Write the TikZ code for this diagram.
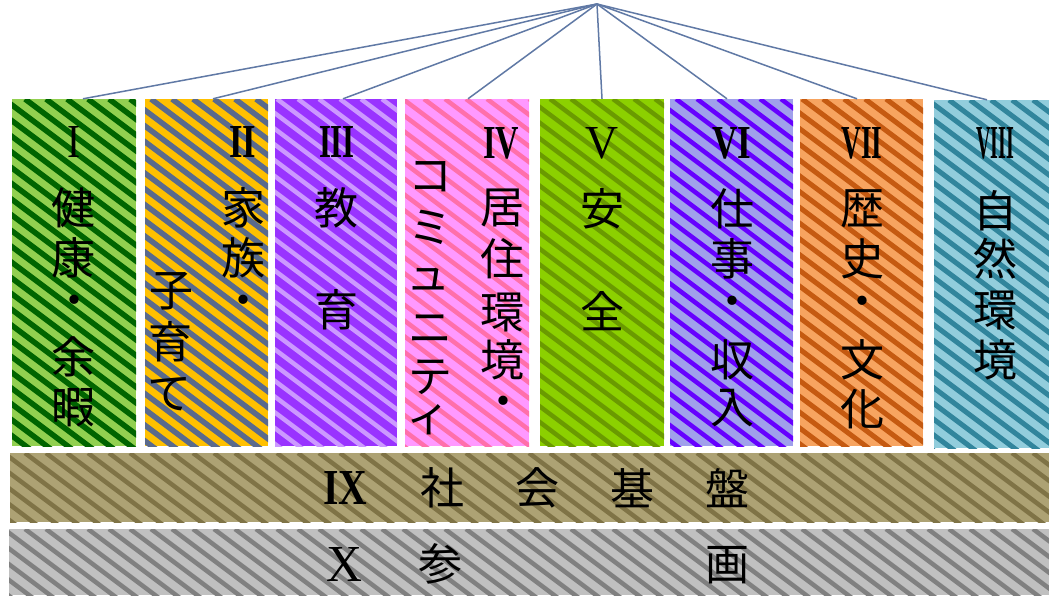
\documentclass[tikz,border=0pt]{standalone}
\usepackage{fontspec}
\usepackage{graphicx}
\setmainfont{Liberation Serif}
\newfontfamily\jp{Noto Sans CJK JP}
\usetikzlibrary{fit,calc}
\definecolor{gAbg}{HTML}{92D050}\definecolor{gAfg}{HTML}{006400}
\definecolor{gBbg}{HTML}{FFC000}\definecolor{gBfg}{HTML}{5A6A8C}
\definecolor{gCbg}{HTML}{9933FF}\definecolor{gCfg}{HTML}{CC99FF}
\definecolor{gDbg}{HTML}{FF99FF}\definecolor{gDfg}{HTML}{FF6FAA}
\definecolor{gEbg}{HTML}{8CD000}\definecolor{gEfg}{HTML}{6A9A00}
\definecolor{gFbg}{HTML}{A0A0EB}\definecolor{gFfg}{HTML}{6600FF}
\definecolor{gGbg}{HTML}{F7A460}\definecolor{gGfg}{HTML}{C55A11}
\definecolor{gHbg}{HTML}{92CDDC}\definecolor{gHfg}{HTML}{31859C}
\definecolor{gIbg}{HTML}{ADA274}\definecolor{gIfg}{HTML}{7F7346}
\definecolor{gJbg}{HTML}{C0C0C0}\definecolor{gJfg}{HTML}{808080}
\definecolor{conncol}{HTML}{6079A5}
\tikzset{
  jpc/.style={font=\jp\fontsize{44}{50}\selectfont, inner sep=0pt, text=black},
  rnc/.style={font=\fontsize{44}{50}\selectfont, inner sep=0pt, text=black},
  conn/.style={draw=conncol, line width=1.5pt},
  panel/.style={inner sep=0pt, draw=none}
}
\begin{document}
\begin{tikzpicture}[x=1pt,y=-1pt]
\useasboundingbox (0,0) rectangle (1049,595);
\fill[white] (0,0) rectangle (1049,595);
\foreach \n/\xa/\ya/\xb/\yb/\cb/\cf/\lw in {
  c1/12/99/136/446/gAbg/gAfg/5.5,
  c2/145/99/268/446/gBbg/gBfg/5.5,
  c3/275/99/397/446/gCbg/gCfg/4.5,
  c4/405/99/529/446/gDbg/gDfg/4.5,
  c5/540/99/664/446/gEbg/gEfg/4.5,
  c6/670/99/793/446/gFbg/gFfg/4.5,
  c7/800/99/923/446/gGbg/gGfg/5,
  c8/934/100/1049/448/gHbg/gHfg/5,
  c9/10/453/1049/522/gIbg/gIfg/4.5,
  c10/9/529/1049/595/gJbg/gJfg/4.5}{
  \begin{scope}
    \clip (\xa,\ya) rectangle (\xb,\yb);
    \fill[\cb] (\xa,\ya) rectangle (\xb,\yb);
    \foreach \s in {-500,-479,...,1060}
      \draw[\cf, line width=\lw pt] (\s,\ya) -- ++(500,375);
  \end{scope}
  \node[panel, fit={(\xa,\ya) (\xb,\yb)}] (\n) {};
}
% Roman numerals
\foreach \rw/\rh/\rf/\rt/\x/\y [count=\i] in {
  13/31/\mdseries/I/74/142, 27/31/\bfseries/II/243/142, 36/31/\bfseries/III/337/142,
  36/31/\bfseries/IV/501/143, 33/31/\mdseries/V/602/143, 39/31/\bfseries/VI/732/143,
  41/31/\bfseries/VII/862/143, 38/31/\bfseries/VIII/995/143,
  44/33/\bfseries/IX/345/488, 36/34/\mdseries/X/344/564}
  \node[rnc] (r\i) at (\x,\y) {\rf\resizebox{\rw pt}{\rh pt}{\rt}};
% Japanese characters
\foreach \ch/\x/\y [count=\i] in {
  健/73/208, 康/73/258, ・/74/306, 余/73/357, 暇/73/408,
  家/243/208, 族/243/258, ・/243/306, 子/171/291, 育/170/342, て/169/394,
  教/336/208, 育/336/310,
  居/502/208, 住/502/259, 環/502/312, 境/502/360, ・/503/407,
  コ/430/177, ミ/430/227, ュ/428/279, ニ/430/329, テ/430/377, ィ/428/420,
  安/602/209, 全/602/311,
  仕/732/209, 事/732/259, ・/732/307, 収/732/360, 入/732/408,
  歴/862/209, 史/862/259, ・/862/307, 文/862/360, 化/862/409,
  自/995/211, 然/995/259, 環/995/310, 境/995/360,
  社/442/488, 会/537/488, 基/632/488, 盤/727/488,
  参/440/564, 画/727/565}
  \node[jpc] (j\i) at (\x,\y) {\ch};
% connectors
\coordinate (apex) at (597,4);
\draw[conn] (apex) -- ($(c1.north)+(9,0)$);
\draw[conn] (apex) -- ($(c2.north)+(6.5,0)$);
\draw[conn] (apex) -- ($(c3.north)+(7,0)$);
\draw[conn] (apex) -- ($(c4.north)+(1,0)$);
\draw[conn] (apex) -- (c5.north);
\draw[conn] (apex) -- ($(c6.north)+(-4.5,0)$);
\draw[conn] (apex) -- ($(c7.north)+(-4.5,0)$);
\draw[conn] (apex) -- ($(c8.north)+(-4.5,0)$);
\end{tikzpicture}
\end{document}
